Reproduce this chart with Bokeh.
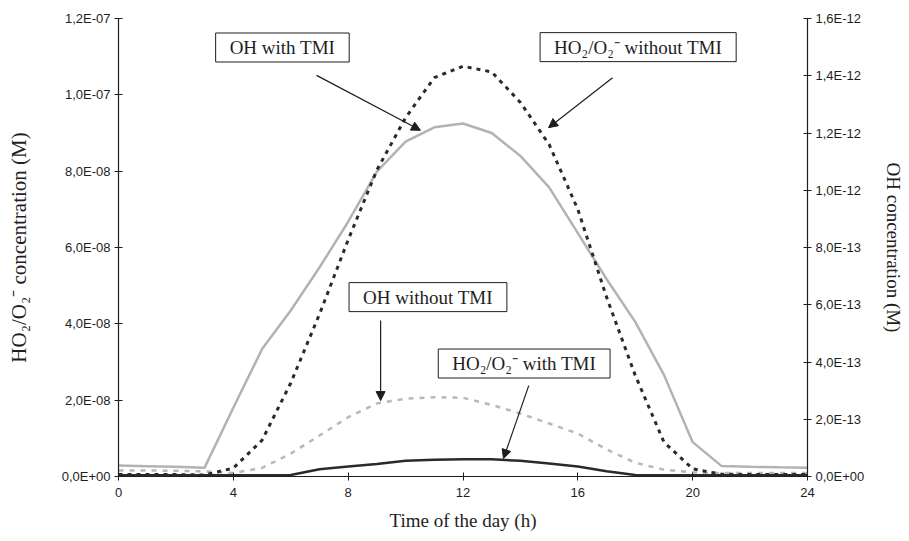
from bokeh.plotting import figure
from bokeh.models import (Range1d, LinearAxis, FixedTicker, CustomJSTickFormatter,
                          Label, Arrow, NormalHead)
from bokeh.embed import file_html
from bokeh.resources import INLINE

# ---------------- data ----------------
hours = list(range(25))

# OH concentration (units of 1e-12 M, right axis)
oh_with_tmi_e12 = [0.038, 0.036, 0.034, 0.031, 0.24, 0.445, 0.58, 0.73, 0.89, 1.065,
                   1.17, 1.22, 1.233, 1.20, 1.12, 1.01, 0.85, 0.69, 0.54, 0.355,
                   0.12, 0.037, 0.034, 0.032, 0.031]
oh_without_tmi_e12 = [0.021, 0.021, 0.020, 0.018, 0.012, 0.03, 0.08, 0.143, 0.207, 0.255,
                      0.272, 0.277, 0.275, 0.25, 0.22, 0.185, 0.15, 0.095, 0.048, 0.024,
                      0.014, 0.012, 0.012, 0.012, 0.012]
# HO2/O2- concentration (units of 1e-8 M, left axis)
ho2_without_tmi_e8 = [0.05, 0.05, 0.05, 0.04, 0.22, 0.95, 2.45, 4.25, 6.2, 8.03,
                      9.4, 10.45, 10.75, 10.6, 9.8, 8.7, 7.0, 4.7, 2.65, 0.9,
                      0.2, 0.06, 0.05, 0.05, 0.05]
ho2_with_tmi_e8 = [0.03, 0.03, 0.03, 0.03, 0.03, 0.03, 0.04, 0.19, 0.26, 0.33,
                   0.41, 0.44, 0.45, 0.45, 0.41, 0.34, 0.26, 0.14, 0.04, 0.03,
                   0.03, 0.03, 0.03, 0.03, 0.03]

oh_with_tmi = [v * 1e-12 for v in oh_with_tmi_e12]
oh_without_tmi = [v * 1e-12 for v in oh_without_tmi_e12]
ho2_without_tmi = [v * 1e-8 for v in ho2_without_tmi_e8]
ho2_with_tmi = [v * 1e-8 for v in ho2_with_tmi_e8]

x_ticks = [0, 4, 8, 12, 16, 20, 24]
left_ticks = [0, 2e-8, 4e-8, 6e-8, 8e-8, 1e-7, 1.2e-7]
left_labels = ["0,0E+00", "2,0E-08", "4,0E-08", "6,0E-08", "8,0E-08", "1,0E-07", "1,2E-07"]
right_ticks = [0, 2e-13, 4e-13, 6e-13, 8e-13, 1e-12, 1.2e-12, 1.4e-12, 1.6e-12]
right_labels = ["0,0E+00", "2,0E-13", "4,0E-13", "6,0E-13", "8,0E-13", "1,0E-12",
                "1,2E-12", "1,4E-12", "1,6E-12"]

x_title = "Time of the day (h)"
left_title = "HO\u2082/O\u2082\u207b concentration (M)"
right_title = "OH concentration (M)"

# ---------------- figure ----------------
SERIF = "Liberation Serif"
SANS = "Liberation Sans"
INK = "#1e1e1e"

p = figure(width=909, height=541, output_backend="svg", toolbar_location=None,
           x_range=Range1d(0, 24), y_range=Range1d(0, 1.2e-7),
           min_border_left=118, min_border_right=102, min_border_top=18,
           min_border_bottom=65, background_fill_color="white",
           border_fill_color="white", outline_line_color=None)
p.grid.visible = False
p.extra_y_ranges = {"oh": Range1d(0, 1.6e-12)}

right_axis = LinearAxis(y_range_name="oh")
p.add_layout(right_axis, "right")

fmt_code = """
let best = 0; let d = Infinity;
for (let i = 0; i < vals.length; i++) {
  const dd = Math.abs(vals[i] - tick);
  if (dd < d) { d = dd; best = i; }
}
return labs[best];
"""
p.yaxis[0].ticker = FixedTicker(ticks=left_ticks)
p.yaxis[0].formatter = CustomJSTickFormatter(args=dict(vals=left_ticks, labs=left_labels), code=fmt_code)
right_axis.ticker = FixedTicker(ticks=right_ticks)
right_axis.formatter = CustomJSTickFormatter(args=dict(vals=right_ticks, labs=right_labels), code=fmt_code)
p.xaxis[0].ticker = FixedTicker(ticks=x_ticks)

p.xaxis[0].axis_label = x_title
p.yaxis[0].axis_label = left_title
right_axis.axis_label = right_title

for ax, lsize, standoff in [(p.xaxis[0], "19px", 10), (p.yaxis[0], "21px", 28), (right_axis, "19px", 16)]:
    ax.axis_line_color = INK
    ax.axis_line_width = 1.2
    ax.major_tick_line_color = INK
    ax.major_tick_in = 4
    ax.major_tick_out = 4
    ax.minor_tick_in = 0
    ax.minor_tick_out = 0
    ax.minor_tick_line_color = None
    ax.major_label_text_font = SANS
    ax.major_label_text_font_size = "13px"
    ax.major_label_text_color = INK
    ax.major_label_standoff = 4 if ax is not p.xaxis[0] else 7
    ax.axis_label_text_font = SERIF
    ax.axis_label_text_font_style = "normal"
    ax.axis_label_text_font_size = lsize
    ax.axis_label_text_color = INK
    ax.axis_label_standoff = standoff

# ---------------- series ----------------
p.line(hours, oh_with_tmi, y_range_name="oh", line_color="#b3b3b3", line_width=2.5)
p.line(hours, oh_without_tmi, y_range_name="oh", line_color="#b8b8b8", line_width=2.5,
       line_dash="5 6")
p.line(hours, ho2_with_tmi, line_color="#2a2a2a", line_width=2.5)
p.line(hours, ho2_without_tmi, line_color="#2a2a2a", line_width=3, line_dash="4 5")

# ---------------- annotations ----------------
boxes = [
    ("OH with TMI", 5.71, 1.124e-7),
    ("HO\u2082/O\u2082\u207b without TMI", 18.1, 1.125e-7),
    ("OH without TMI", 10.78, 4.70e-8),
    ("HO\u2082/O\u2082\u207b with TMI", 14.13, 2.96e-8),
]
for txt, bx, by in boxes:
    p.add_layout(Label(x=bx, y=by, text=txt, text_align="center", text_baseline="middle",
                       text_font=SERIF, text_font_size="19px", text_color=INK,
                       border_line_color=INK, border_line_width=1,
                       background_fill_color="white", padding=(14, 4)))

arrows = [
    (6.90, 1.051e-7, 10.52, 9.07e-8),
    (17.21, 1.045e-7, 14.98, 9.14e-8),
    (9.13, 4.09e-8, 9.13, 1.99e-8),
    (14.29, 2.38e-8, 13.41, 4.7e-9),
]
for xs, ys, xe, ye in arrows:
    p.add_layout(Arrow(end=NormalHead(size=9, fill_color=INK, line_color=INK, line_width=1),
                       x_start=xs, y_start=ys, x_end=xe, y_end=ye,
                       line_color=INK, line_width=1.2))

open("out.html", "w").write(file_html(p, INLINE))
